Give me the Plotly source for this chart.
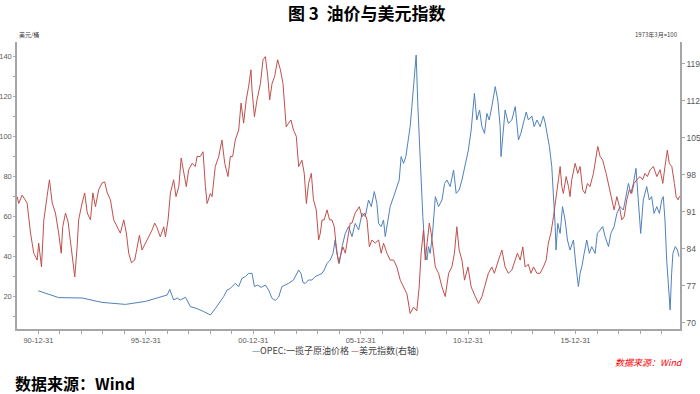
import datetime as dt
import plotly.graph_objects as go

# ---------------- data ----------------
dollar_years = [
    1990.01, 1990.08, 1990.24, 1990.47, 1990.63, 1990.78, 1990.94, 1991.01, 1991.14, 1991.25,
    1991.40, 1991.51, 1991.64, 1991.79, 1991.94, 1992.06, 1992.13, 1992.26, 1992.38, 1992.49,
    1992.60, 1992.69, 1992.80, 1992.87, 1993.03, 1993.15, 1993.27, 1993.42, 1993.53, 1993.65,
    1993.80, 1993.96, 1994.08, 1994.20, 1994.35, 1994.50, 1994.66, 1994.81, 1994.97, 1995.09,
    1995.20, 1995.33, 1995.48, 1995.59, 1995.70, 1995.82, 1995.98, 1996.13, 1996.29, 1996.41,
    1996.52, 1996.67, 1996.83, 1996.91, 1997.03, 1997.14, 1997.29, 1997.40, 1997.53, 1997.64,
    1997.76, 1997.88, 1997.99, 1998.15, 1998.30, 1998.38, 1998.53, 1998.66, 1998.77, 1998.85,
    1999.00, 1999.08, 1999.23, 1999.39, 1999.54, 1999.67, 1999.82, 1999.93, 2000.04, 2000.16,
    2000.32, 2000.43, 2000.55, 2000.67, 2000.78, 2000.89, 2000.94, 2001.05, 2001.17, 2001.33,
    2001.45, 2001.56, 2001.67, 2001.76, 2001.87, 2001.99, 2002.13, 2002.26, 2002.38, 2002.53,
    2002.64, 2002.75, 2002.87, 2003.00, 2003.11, 2003.26, 2003.37, 2003.47, 2003.57, 2003.70,
    2003.80, 2003.93, 2004.04, 2004.12, 2004.20, 2004.30, 2004.43, 2004.55, 2004.66, 2004.77,
    2004.86, 2004.97, 2005.05, 2005.17, 2005.28, 2005.39, 2005.51, 2005.59, 2005.74, 2005.93,
    2006.06, 2006.18, 2006.29, 2006.40, 2006.52, 2006.67, 2006.83, 2006.95, 2007.06, 2007.22,
    2007.37, 2007.53, 2007.68, 2007.84, 2007.99, 2008.15, 2008.30, 2008.46, 2008.61, 2008.72,
    2008.81, 2008.92, 2009.00, 2009.08, 2009.19, 2009.28, 2009.36, 2009.47, 2009.62, 2009.78,
    2009.93, 2010.09, 2010.24, 2010.36, 2010.47, 2010.58, 2010.71, 2010.83, 2010.99, 2011.14,
    2011.33, 2011.48, 2011.64, 2011.79, 2011.94, 2012.10, 2012.22, 2012.41, 2012.57, 2012.72,
    2012.87, 2013.03, 2013.19, 2013.29, 2013.42, 2013.54, 2013.65, 2013.80, 2013.92, 2014.04,
    2014.20, 2014.35, 2014.50, 2014.63, 2014.73, 2014.85, 2014.97, 2015.08, 2015.20, 2015.28,
    2015.36, 2015.43, 2015.56, 2015.67, 2015.74, 2015.82, 2015.98, 2016.10, 2016.21, 2016.33,
    2016.44, 2016.55, 2016.67, 2016.83, 2016.95, 2017.03, 2017.14, 2017.26, 2017.42, 2017.56,
    2017.68, 2017.79, 2017.92, 2018.04, 2018.15, 2018.26, 2018.38, 2018.50, 2018.61, 2018.72,
    2018.85, 2019.00, 2019.12, 2019.23, 2019.34, 2019.47, 2019.62, 2019.78, 2019.93, 2020.06,
    2020.16, 2020.27, 2020.36, 2020.48, 2020.60, 2020.68, 2020.77, 2020.84,
]
dollar_index = [
    93.9, 92.6, 94.2, 92.7, 87.0, 83.2, 81.9, 85.1, 80.6, 89.5,
    93.9, 97.1, 92.7, 90.8, 87.0, 83.2, 88.2, 90.8, 89.1, 85.7,
    81.9, 78.7, 84.4, 89.5, 92.7, 94.6, 90.8, 89.5, 94.6, 92.0,
    95.2, 96.5, 96.7, 94.6, 93.3, 89.5, 88.2, 87.0, 89.5, 87.0,
    83.2, 81.4, 81.9, 84.4, 86.6, 83.8, 85.1, 86.3, 87.6, 88.9,
    88.0, 86.3, 88.2, 86.3, 89.5, 94.6, 97.1, 93.9, 95.8, 101.2,
    98.3, 95.8, 99.0, 100.2, 99.6, 101.5, 101.5, 102.4, 95.8, 92.6,
    94.5, 93.9, 99.6, 101.5, 104.6, 100.2, 97.7, 101.5, 101.5, 104.6,
    106.5, 111.6, 107.8, 112.2, 114.7, 117.9, 114.1, 109.0, 112.2, 115.3,
    119.8, 120.4, 116.6, 112.2, 115.3, 116.6, 119.8, 117.9, 115.3, 107.1,
    107.8, 108.4, 106.5, 105.3, 99.6, 100.8, 98.3, 92.6, 96.4, 98.3,
    93.3, 91.4, 85.7, 87.0, 89.5, 89.5, 91.4, 89.5, 89.5, 88.2,
    84.4, 81.3, 82.6, 84.4, 83.2, 85.7, 88.9, 88.9, 90.8, 92.0,
    90.1, 90.8, 89.5, 84.4, 85.7, 85.1, 85.7, 83.2, 85.1, 83.2,
    81.9, 81.9, 80.6, 78.1, 76.8, 75.5, 71.8, 73.0, 72.3, 76.8,
    83.2, 87.6, 81.9, 85.1, 88.9, 86.9, 84.4, 80.6, 79.4, 76.8,
    75.0, 79.4, 80.6, 83.2, 88.2, 83.8, 81.9, 78.1, 80.6, 76.8,
    75.0, 73.7, 75.0, 77.4, 79.4, 80.6, 79.4, 81.9, 83.8, 80.6,
    79.4, 80.0, 81.9, 83.2, 81.9, 84.4, 80.6, 81.1, 79.4, 80.6,
    79.4, 79.4, 80.6, 81.9, 85.1, 87.0, 90.1, 93.1, 97.1, 99.6,
    95.8, 94.5, 97.7, 95.8, 93.9, 97.1, 100.2, 98.3, 99.6, 95.2,
    94.5, 96.4, 95.8, 98.3, 101.5, 103.4, 101.5, 100.8, 98.3, 95.8,
    93.9, 91.4, 93.9, 92.0, 89.5, 90.1, 93.3, 95.2, 94.5, 96.4,
    97.1, 97.7, 97.1, 98.3, 97.7, 99.0, 99.6, 97.7, 99.0, 96.4,
    99.6, 102.7, 100.2, 99.6, 96.4, 93.9, 93.3, 94.0,
]

oil_years = [
    1990.99, 1991.94, 1993.03, 1993.96, 1995.05, 1995.98, 1996.99, 1997.11, 1997.29, 1997.45,
    1997.60, 1997.84, 1998.07, 1998.38, 1998.69, 1999.00, 1999.23, 1999.39, 1999.62, 1999.78,
    1999.93, 2000.16, 2000.32, 2000.47, 2000.63, 2000.78, 2000.94, 2001.05, 2001.20, 2001.36,
    2001.56, 2001.71, 2001.87, 2002.02, 2002.18, 2002.33, 2002.49, 2002.64, 2002.87, 2003.11,
    2003.22, 2003.31, 2003.42, 2003.57, 2003.73, 2003.88, 2004.04, 2004.20, 2004.30, 2004.43,
    2004.58, 2004.71, 2004.81, 2004.89, 2005.00, 2005.13, 2005.28, 2005.43, 2005.59, 2005.74,
    2005.90, 2006.06, 2006.21, 2006.36, 2006.49, 2006.63, 2006.75, 2006.83, 2006.95, 2007.06,
    2007.14, 2007.27, 2007.37, 2007.53, 2007.68, 2007.79, 2007.88, 2007.99, 2008.10, 2008.22,
    2008.30, 2008.38, 2008.46, 2008.53, 2008.58, 2008.66, 2008.72, 2008.81, 2008.89, 2009.00,
    2009.08, 2009.15, 2009.23, 2009.34, 2009.47, 2009.62, 2009.78, 2009.90, 2010.01, 2010.16,
    2010.32, 2010.44, 2010.58, 2010.71, 2010.86, 2011.01, 2011.14, 2011.22, 2011.29, 2011.40,
    2011.53, 2011.64, 2011.76, 2011.87, 2011.98, 2012.10, 2012.26, 2012.38, 2012.49, 2012.53,
    2012.61, 2012.72, 2012.87, 2013.03, 2013.19, 2013.26, 2013.34, 2013.45, 2013.57, 2013.70,
    2013.80, 2013.96, 2014.07, 2014.20, 2014.35, 2014.50, 2014.58, 2014.69, 2014.78, 2014.89,
    2014.97, 2015.05, 2015.09, 2015.17, 2015.28, 2015.39, 2015.51, 2015.62, 2015.74, 2015.90,
    2016.02, 2016.13, 2016.21, 2016.29, 2016.40, 2016.52, 2016.64, 2016.75, 2016.91, 2017.01,
    2017.14, 2017.26, 2017.37, 2017.53, 2017.64, 2017.79, 2017.92, 2018.07, 2018.22, 2018.35,
    2018.46, 2018.57, 2018.69, 2018.81, 2018.92, 2019.03, 2019.15, 2019.31, 2019.43, 2019.54,
    2019.65, 2019.78, 2019.90, 2020.01, 2020.08, 2020.16, 2020.24, 2020.32, 2020.40, 2020.47,
    2020.53, 2020.64, 2020.74, 2020.81,
]
oil_price = [
    22.6, 19.2, 19.0, 16.8, 15.8, 17.3, 20.5, 23.3, 18.0, 19.0,
    18.0, 19.4, 14.7, 13.7, 12.2, 10.5, 13.7, 16.2, 19.7, 23.0,
    23.8, 26.3, 24.7, 28.8, 29.7, 31.3, 31.3, 24.7, 25.5, 24.3,
    25.5, 23.0, 18.8, 17.8, 19.5, 24.7, 25.5, 26.3, 28.0, 33.0,
    31.3, 26.8, 26.3, 28.0, 28.0, 29.7, 30.5, 31.3, 33.0, 36.3,
    38.0, 41.3, 48.0, 41.3, 36.3, 44.7, 51.3, 54.7, 49.7, 56.3,
    53.0, 61.3, 59.7, 68.0, 64.7, 72.2, 66.3, 56.3, 54.7, 58.0,
    49.7, 59.7, 64.7, 69.7, 74.7, 78.0, 89.7, 86.3, 89.7, 98.0,
    104.7, 114.7, 124.7, 133.0, 140.5, 114.7, 98.0, 81.3, 59.7, 41.3,
    38.0, 44.7, 41.3, 51.3, 69.7, 64.7, 68.0, 76.3, 78.0, 74.7,
    83.0, 71.3, 73.0, 78.0, 86.3, 93.0, 103.0, 111.3, 121.3, 108.0,
    113.0, 104.7, 101.3, 111.3, 108.0, 114.7, 124.7, 118.0, 104.7, 89.7,
    101.3, 113.0, 106.3, 108.0, 114.7, 104.7, 98.0, 101.3, 106.3, 112.0,
    108.0, 110.0, 104.7, 108.0, 104.7, 110.0, 106.7, 100.0, 94.7, 84.7,
    71.3, 54.7, 43.0, 56.3, 51.3, 64.7, 58.0, 48.0, 43.0, 48.0,
    34.7, 24.7, 31.3, 34.7, 41.3, 48.0, 41.3, 44.7, 41.3, 51.3,
    53.0, 54.7, 49.7, 44.7, 51.3, 54.7, 61.3, 64.7, 63.0, 71.3,
    76.3, 71.3, 76.3, 83.8, 64.7, 51.3, 68.0, 74.7, 68.0, 69.7,
    61.3, 64.7, 61.3, 68.0, 69.7, 58.0, 38.0, 23.0, 13.0, 31.3,
    41.3, 44.7, 43.0, 39.7,
]

left_ticks = [20, 40, 60, 80, 100, 120, 140]
right_ticks = [70, 77, 84, 91, 98, 105, 112, 119]
x_tick_dates = ["1990-12-31", "1995-12-31", "2000-12-31", "2005-12-31", "2010-12-31", "2015-12-31"]
x_tick_labels = ["90-12-31", "95-12-31", "00-12-31", "05-12-31", "10-12-31", "15-12-31"]
minor_x_dates = ["%d-12-31" % y for y in range(1990, 2021)]


def to_date(y):
    year = int(y)
    start = dt.datetime(year, 1, 1)
    return start + dt.timedelta(days=(y - year) * 365.25)


FONT = "Noto Sans CJK SC"
BLUE = "#4F81BD"
RED = "#C0504D"
AXIS = "#A6A6A6"
LTICKFONT = dict(family="Liberation Sans, Arial, sans-serif", size=7.5, color="#595959")
RTICKFONT = dict(family="Liberation Sans, Arial, sans-serif", size=8.5, color="#595959")
XTICKFONT = dict(family="Liberation Sans, Arial, sans-serif", size=7.5, color="#595959")

fig = go.Figure()
fig.add_trace(go.Scatter(
    x=[to_date(v) for v in oil_years], y=oil_price, mode="lines",
    name="OPEC:一揽子原油价格", line=dict(color=BLUE, width=1), yaxis="y",
))
fig.add_trace(go.Scatter(
    x=[to_date(v) for v in dollar_years], y=dollar_index, mode="lines",
    name="美元指数(右轴)", line=dict(color=RED, width=1), yaxis="y2",
))

fig.update_layout(
    width=700, height=394,
    margin=dict(l=17, r=20, t=42, b=65),
    paper_bgcolor="white", plot_bgcolor="white",
    showlegend=False,
    font=dict(family=FONT, color="#404040"),
    xaxis=dict(
        type="date", range=["1990-01-01", "2020-11-10"], automargin=False,
        tickmode="array", tickvals=x_tick_dates, ticktext=x_tick_labels,
        ticks="outside", ticklen=3, tickcolor=AXIS,
        minor=dict(tickmode="array", tickvals=minor_x_dates, ticks="outside", ticklen=3, tickcolor=AXIS),
        showline=True, linecolor=AXIS, linewidth=1.5, showgrid=False, zeroline=False,
        tickfont=XTICKFONT,
    ),
    yaxis=dict(
        range=[3.5, 147], tickmode="array", tickvals=left_ticks, automargin=False,
        ticks="outside", ticklen=2, tickcolor=AXIS,
        minor=dict(tickmode="linear", tick0=10, dtick=10, ticks="outside", ticklen=2, tickcolor=AXIS),
        showline=True, linecolor=AXIS, linewidth=1.5, showgrid=False, zeroline=False,
        tickfont=LTICKFONT,
    ),
    yaxis2=dict(
        range=[68.86, 123.16], overlaying="y", side="right", automargin=False,
        tickmode="array", tickvals=right_ticks,
        ticks="outside", ticklen=3, tickcolor=AXIS,
        showline=True, linecolor=AXIS, linewidth=1.5, showgrid=False, zeroline=False,
        tickfont=RTICKFONT,
    ),
)

annotations = [
    dict(text="<b>图 3  油价与美元指数</b>", x=0.528, y=1.1045, xref="paper", yref="paper",
         xanchor="center", yanchor="middle", showarrow=False,
         font=dict(family=FONT, size=17, color="#000000")),
    dict(text="美元/桶", x=0.0, y=1.005, xref="paper", yref="paper",
         xanchor="left", yanchor="bottom", showarrow=False,
         font=dict(family=FONT, size=6, color="#404040")),
    dict(text="1973年3月=100", x=1.0, y=1.005, xref="paper", yref="paper",
         xanchor="right", yanchor="bottom", showarrow=False,
         font=dict(family=FONT, size=6, color="#404040")),
    dict(text="<span style='color:%s'>—</span>OPEC:一揽子原油价格 <span style='color:%s'>—</span>美元指数(右轴)" % (BLUE, RED),
         x=0.481, y=-0.075, xref="paper", yref="paper",
         xanchor="center", yanchor="middle", showarrow=False,
         font=dict(family=FONT, size=9, color="#404040")),
    dict(text="<i>数据来源：Wind</i>", x=1.0075, y=-0.115, xref="paper", yref="paper",
         xanchor="right", yanchor="middle", showarrow=False,
         font=dict(family=FONT, size=9, color="#FF0000")),
    dict(text="<b>数据来源：Wind</b>", x=-0.006, y=-0.188, xref="paper", yref="paper",
         xanchor="left", yanchor="middle", showarrow=False,
         font=dict(family=FONT, size=16, color="#000000")),
]
fig.update_layout(annotations=annotations)

fig.write_html(
    "out.html",
    config={"displayModeBar": False},
    post_script="document.body.style.margin='0';document.body.style.overflow='hidden';",
)
